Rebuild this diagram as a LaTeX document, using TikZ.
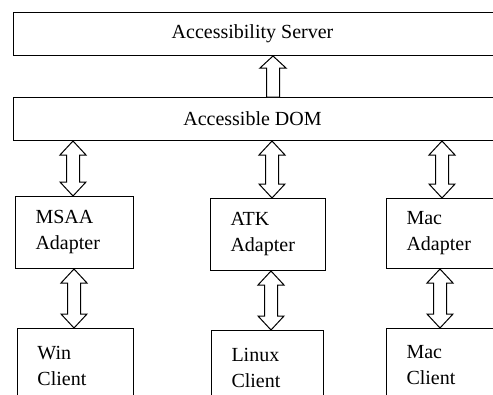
\documentclass[tikz,border=0pt]{standalone}
\usepackage{fontspec}
\setmainfont{Liberation Serif}
\usetikzlibrary{calc}
\tikzset{
  box/.style={draw, line width=1pt, rectangle, inner sep=0pt, anchor=north west},
  wide/.style={box, minimum width=492pt, minimum height=43pt, font=\fontsize{20}{22}\selectfont},
  small/.style={box, font=\fontsize{20}{26}\selectfont, align=left, text width=78pt, inner xsep=20pt}
}
\tikzset{blk/.style={draw, line width=1pt, fill=white, line join=miter}}
\newcommand\dblarrow[3]{%
  \path (#1,0 |- #2) coordinate (t) (#1,0 |- #3) coordinate (b);
  \draw[blk] (t) -- ++(13,14) -- ++(-6.5,0) -- ($(b)+(6.5,-14)$) -- ++(6.5,0) -- (b)
    -- ++(-13,-14) -- ++(6.5,0) -- ($(t)+(-6.5,14)$) -- ++(-6.5,0) -- cycle;}
\begin{document}
\begin{tikzpicture}[x=1pt,y=-1pt]
\useasboundingbox (0,0) rectangle (493,394);
\node[wide] (server) at (13,12) {\hspace*{-14pt}Accessibility Server};
\node[wide] (dom) at (13,97) {\hspace*{-14pt}Accessible DOM};
\node[small, minimum height=72pt] (msaa) at (15,196) {MSAA\\Adapter};
\node[small, minimum height=72pt, text width=75pt] (atk) at (210,198) {ATK\\Adapter};
\node[small, minimum height=70pt, text width=90pt] (macad) at (386,198) {Mac\\Adapter};
\node[small, minimum height=74pt, text width=76pt] (win) at (17,328) {Win\\Client};
\node[small, minimum height=74pt, text width=72pt] (linux) at (211,330) {Linux\\Client};
\node[small, minimum height=74pt, text width=90pt] (macc) at (386,328) {Mac\\Client};
% single arrow DOM -> Server
\path (273,0 |- server.south) coordinate (t) (273,0 |- dom.north) coordinate (b);
\draw[blk] (t) -- ++(13,12) -- ++(-6.5,0) -- (b -| {(279.5,0)}) -- ++(-13,0) -- ($(t)+(-6.5,12)$) -- ++(-6.5,0) -- cycle;
\dblarrow{73}{dom.south}{msaa.north}
\dblarrow{74}{msaa.south}{win.north}
\dblarrow{272}{dom.south}{atk.north}
\dblarrow{271}{atk.south}{linux.north}
\dblarrow{442}{dom.south}{macad.north}
\dblarrow{440}{macad.south}{macc.north}
\end{tikzpicture}
\end{document}
